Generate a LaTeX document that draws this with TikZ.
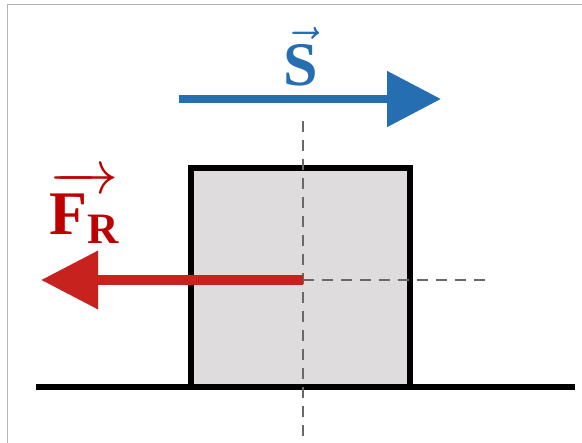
\RequirePackage{fix-cm}
\documentclass[tikz,border=0pt]{standalone}
\usepackage{amsmath}
\usepackage{fontspec}
\setmainfont{Liberation Serif}
\usetikzlibrary{positioning, calc, arrows.meta}
\definecolor{framegray}{RGB}{178, 178, 178}
\definecolor{blockfill}{RGB}{222, 220, 220}
\definecolor{axisgray}{RGB}{105, 105, 105}
\definecolor{moveblue}{RGB}{38, 110, 178}
\definecolor{forcered}{RGB}{200, 34, 30}
\definecolor{labelred}{RGB}{190, 0, 0}

\begin{document}
\begin{tikzpicture}[
      x=1pt, y=-1pt,
      block/.style={rectangle, draw=black, fill=blockfill, line width=6pt, minimum width=219pt, minimum height=218.5pt, inner sep=0pt},
      ground/.style={line width=6.5pt, draw=black},
      axis/.style={draw=axisgray, line width=2pt, dash pattern=on 11pt off 8pt},
      dispvec/.style={draw=moveblue, line width=8.5pt, -{Triangle[length=54pt, width=54pt]}},
      forcevec/.style={draw=forcered, line width=10pt, -{Triangle[length=57pt, width=56pt]}},
      veclabel/.style={font=\fontsize{62}{62}\selectfont\bfseries, inner sep=0pt}
    ]
      \useasboundingbox (0,0) rectangle (582,443);
      % Frame
      \draw[framegray, line width=1.5pt] (7.5,443) -- (7.5,4.5) -- (582,4.5);

      % Nodes
      \node[block] (blk) at (300.5,277.5) {};
      \coordinate (c) at (302.5,280);
      \coordinate (axtop) at (302.5,121);
      \coordinate (axbot) at (302.5,443);
      \coordinate (axright) at (490,280);
      \coordinate (gl) at (36,387);
      \coordinate (gr) at (575,387);
      \coordinate (fend) at (41,280);
      \coordinate (sstart) at (179,99);
      \coordinate (send) at (441,99);
      \node[veclabel, text=moveblue] (slabel) at (301,57) {$\vec{\textbf{S}}$};
      \node[veclabel, text=labelred] (flabel) at (84,207) {$\overrightarrow{\textbf{F}_{\textbf{R}}}$};

      % Lines
      \draw[ground] (gl) -- (gr);
      \draw[axis] (axtop) -- (axbot);
      \draw[axis] (c) -- (axright);
      \draw[forcevec] (c) -- (fend);
      \draw[dispvec] (sstart) -- (send);
    \end{tikzpicture}
\end{document}
